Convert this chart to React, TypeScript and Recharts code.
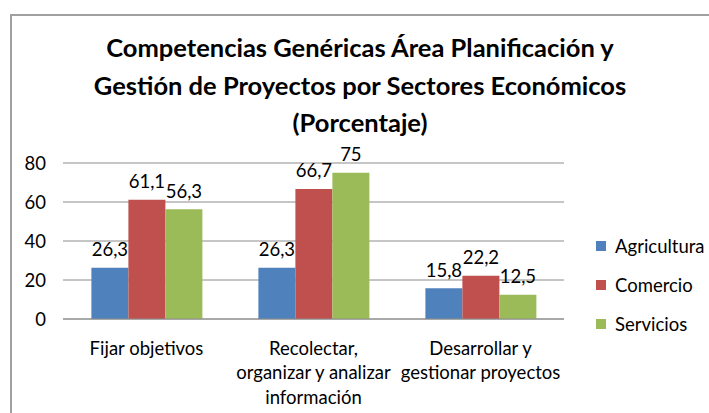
import React from 'react';
import { BarChart, Bar, XAxis, YAxis, CartesianGrid, LabelList, Legend } from 'recharts';

const categories = ['Fijar objetivos', 'Recolectar, organizar y analizar información', 'Desarrollar y gestionar proyectos'];
const categoryLines = [['Fijar objetivos'], ['Recolectar,', 'organizar y analizar', 'información'], ['Desarrollar y', 'gestionar proyectos']];
const agricultura = [26.3, 26.3, 15.8];
const comercio = [61.1, 66.7, 22.2];
const servicios = [56.3, 75, 12.5];
const seriesNames = ['Agricultura', 'Comercio', 'Servicios'];
const seriesKeys = ['agricultura', 'comercio', 'servicios'];
const colors = ['#4F81BD', '#C0504D', '#9BBB59'];
const yTicks = [0, 20, 40, 60, 80];
const titleLines = ['Competencias Genéricas Área Planificación y', 'Gestión de Proyectos por Sectores Económicos', '(Porcentaje)'];

const data = categories.map((c, i) => ({
  name: c,
  idx: i,
  agricultura: agricultura[i],
  comercio: comercio[i],
  servicios: servicios[i],
}));

const FONT = 'Lato, "Open Sans", sans-serif';
const FS = 18.5;

const fmt = (v: any) => String(v).replace('.', ',');

const XTick = (props: any) => {
  const { x, y, payload } = props;
  const lines = categoryLines[payload.index] || [String(payload.value)];
  return (
    <g>
      {lines.map((l, i) => (
        <text key={i} x={x} y={y + 35.5 + i * 24.5} textAnchor="middle" fontSize={FS} fill="#000" fontFamily={FONT}>
          {l}
        </text>
      ))}
    </g>
  );
};

const LegendContent = () => (
  <div style={{ fontFamily: FONT, fontSize: FS, color: '#000' }}>
    {seriesNames.map((n, i) => (
      <div key={n} style={{ display: 'flex', alignItems: 'center', height: 39, whiteSpace: 'nowrap' }}>
        <div style={{ width: 10, height: 10, background: colors[i], marginRight: 9, flexShrink: 0 }} />
        <span>{n}</span>
      </div>
    ))}
  </div>
);

export default function App() {
  return (
    <div style={{ position: 'absolute', left: 0, top: 0, width: 709, height: 413, overflow: 'hidden', background: '#fff' }}>
      <div style={{ position: 'absolute', left: 10, top: 14, width: 730, height: 430, border: '2px solid #a0a0a0', boxSizing: 'border-box' }} />
      <div style={{ position: 'absolute', left: 10, top: 29, width: 700, textAlign: 'center', fontFamily: FONT, fontWeight: 'bold', fontSize: 25.5, lineHeight: '37.5px', color: '#000' }}>
        {titleLines.map((t) => (
          <div key={t}>{t}</div>
        ))}
      </div>
      <div style={{ position: 'absolute', left: 0, top: 0 }}>
        <BarChart width={709} height={413} data={data} margin={{ top: 163, right: 145, bottom: 0, left: 0 }} barCategoryGap="17%" barGap={0}>
          <CartesianGrid horizontal vertical={false} stroke="#8c8c8c" strokeWidth={1} />
          <XAxis dataKey="name" height={94} tick={<XTick />} tickLine={false} tickSize={0} tickMargin={0} axisLine={{ stroke: '#8c8c8c' }} interval={0} />
          <YAxis domain={[0, 80]} ticks={yTicks} width={63} axisLine={false} tickLine={false} tickSize={0} tickMargin={17} tick={{ fontSize: FS, fill: '#000', fontFamily: FONT }} />
          <Legend layout="horizontal" verticalAlign="middle" align="center" width={113} wrapperStyle={{ left: 596, top: 226 }} content={<LegendContent />} />
          {seriesKeys.map((k, i) => (
            <Bar key={k} dataKey={k} name={seriesNames[i]} fill={colors[i]} isAnimationActive={false}>
              <LabelList dataKey={k} position="top" offset={11.5} formatter={fmt} style={{ fontSize: FS, fill: '#000', fontFamily: FONT }} />
            </Bar>
          ))}
        </BarChart>
      </div>
    </div>
  );
}
